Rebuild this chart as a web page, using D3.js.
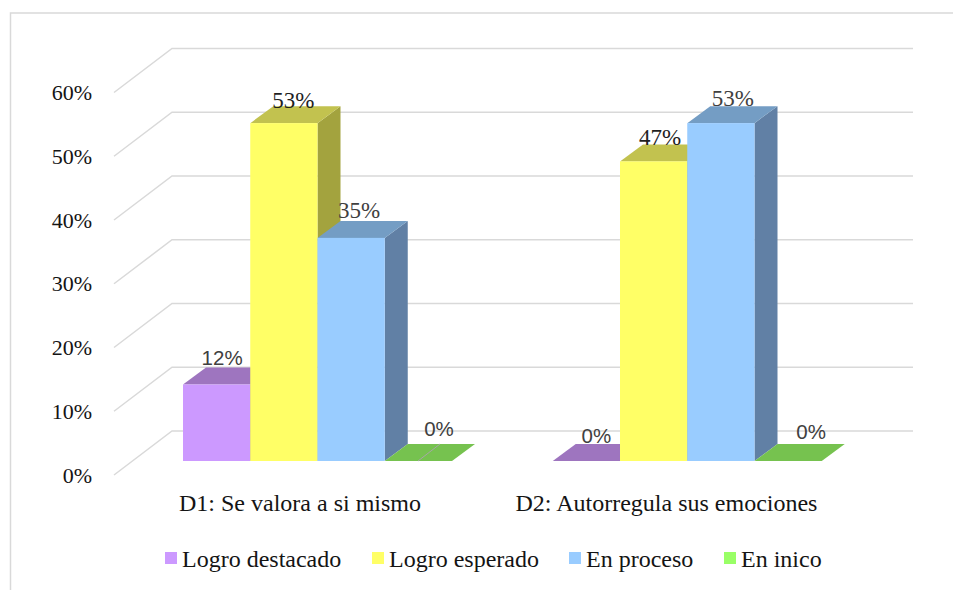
<!DOCTYPE html>
<html><head><meta charset="utf-8">
<style>html,body{margin:0;padding:0;background:#fff}svg{display:block}</style>
<script src="https://cdn.jsdelivr.net/npm/d3@7"></script></head><body>
<svg id="c" width="953" height="590"></svg>
<script>
const categories = ["D1: Se valora a si mismo", "D2: Autorregula sus emociones"];
const seriesNames = ["Logro destacado", "Logro esperado", "En proceso", "En inico"];
const valuesD1 = [12, 53, 35, 0];
const valuesD2 = [0, 47, 53, 0];
const tickValues = [0, 10, 20, 30, 40, 50, 60];
const colFront = ["#cc99ff", "#ffff66", "#99ccff", "#99ff66"];
const colTop = ["#9e75bf", "#c2c24f", "#749dc4", "#76c24f"];
const colSide = ["#8a66a6", "#a3a33e", "#6180a5", "#66a645"];
const labelFont = [
  [["Liberation Sans","#404040",20.5],["Liberation Serif","#1f1f1f",23],["Liberation Serif","#404040",23],["Liberation Sans","#404040",20.5]],
  [["Liberation Sans","#404040",20.5],["Liberation Serif","#1f1f1f",23],["Liberation Serif","#404040",23],["Liberation Sans","#404040",20.5]]
];
// manual label placement of the original chart, offset from the bar's front-top centre
const labelNudge = [
  [[5.5,-20],[9.5,-15.5],[8,-19.5],[20.6,-25]],
  [[10,-18],[6.5,-16],[12,-17.5],[23,-22]]
];
const allValues = [valuesD1, valuesD2];

const svg = d3.select("#c");
const y = d3.scaleLinear().domain([0, 60]).range([461, 78.5]);
const barW = 67.25;
const depthX = 23, depthY = 17;
const wallX = 58, wallY = 44;
const serif = "Liberation Serif", ink = "#141414";

svg.append("path").attr("d","M10.5 590V13H953").attr("fill","none").attr("stroke","#d9d9d9").attr("stroke-width",1.5);

const gridG = svg.append("g");
tickValues.forEach(t => {
  const yf = y(t) + 14;
  gridG.append("path")
    .attr("d", d3.line()([[114, yf], [114 + wallX, yf - wallY], [913, yf - wallY]]))
    .attr("fill","none").attr("stroke","#d9d9d9").attr("stroke-width",1.5);
  svg.append("text").attr("x",92).attr("y",y(t)+21.5).attr("text-anchor","end")
    .attr("font-family",serif).attr("font-size",22).attr("fill",ink).text(t + "%");
});

const centers = [317.5, 687.25];
const poly = pts => d3.line()(pts) + "Z";
allValues.forEach((vals, ci) => {
  const g = svg.append("g");
  const left = centers[ci] - 2 * barW;
  vals.forEach((v, si) => {
    const xl = left + si * barW, xr = xl + barW, yt = y(v), yb = y(0);
    g.append("path").attr("fill", colSide[si]).attr("d", poly([[xr,yt],[xr+depthX,yt-depthY],[xr+depthX,yb-depthY],[xr,yb]]));
    g.append("path").attr("fill", colTop[si]).attr("d", poly([[xl,yt],[xl+depthX,yt-depthY],[xr+depthX,yt-depthY],[xr,yt]]));
  });
  vals.forEach((v, si) => {
    const xl = left + si * barW, yt = y(v), yb = y(0);
    if (v > 0) g.append("rect").attr("x", xl).attr("y", yt).attr("width", barW).attr("height", yb - yt).attr("fill", colFront[si]);
  });
});

// leader line of the moved 0% label
const xD1End = centers[0] + 2 * barW;
svg.append("line").attr("x1", xD1End - 34).attr("y1", y(0)).attr("x2", xD1End - 12).attr("y2", y(0) - depthY)
  .attr("stroke","#a6a6a6").attr("stroke-width",1);

allValues.forEach((vals, ci) => {
  const left = centers[ci] - 2 * barW;
  vals.forEach((v, si) => {
    const s = labelFont[ci][si], n = labelNudge[ci][si];
    const cx = left + si * barW + barW / 2 + n[0];
    svg.append("text").attr("x", cx).attr("y", y(v) + n[1])
      .attr("text-anchor","middle").attr("font-family",s[0]).attr("font-size",s[2]).attr("fill",s[1]).text(v + "%");
  });
  svg.append("text").attr("x", [300,666.5][ci]).attr("y", 511).attr("text-anchor","middle")
    .attr("font-family",serif).attr("font-size",24).attr("fill",ink).text(categories[ci]);
});

const legX = [165, 372, 569, 724];
seriesNames.forEach((n, i) => {
  svg.append("rect").attr("x",legX[i]).attr("y",552).attr("width",12).attr("height",12).attr("fill",colFront[i]);
  svg.append("text").attr("x",legX[i]+17).attr("y",566.5).attr("font-family",serif).attr("font-size",24).attr("fill",ink).text(n);
});
</script></body></html>
